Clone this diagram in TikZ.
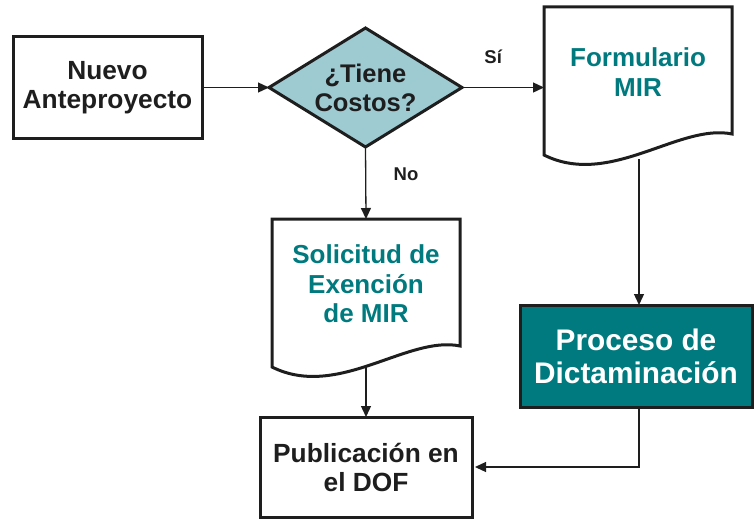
\documentclass[tikz,border=0pt]{standalone}
\usepackage{fontspec}
\setmainfont{Liberation Sans}
\usetikzlibrary{arrows.meta,shapes.geometric,calc}
\definecolor{tealtxt}{RGB}{0,122,126}
\definecolor{tealfill}{RGB}{0,122,126}
\definecolor{diafill}{RGB}{158,202,210}
\definecolor{ink}{RGB}{30,30,30}
\tikzset{
  boxline/.style={draw=ink,line width=3pt},
  procbox/.style={boxline,rectangle,inner sep=0pt,outer sep=0pt,align=center,text=ink,
     font=\bfseries\fontsize{26.3}{29}\selectfont},
  docbox/.style={rectangle,inner sep=0pt,outer sep=0pt,align=center,text=tealtxt,
     font=\bfseries\fontsize{26}{29.5}\selectfont,minimum width=188pt,minimum height=130pt},
  decision/.style={boxline,diamond,fill=diafill,inner sep=0pt,outer sep=0pt,aspect=1.62,
     minimum width=193pt,minimum height=119pt,align=center,text=ink,
     font=\bfseries\fontsize{25.5}{29}\selectfont},
  keybox/.style={boxline,rectangle,fill=tealfill,inner sep=0pt,outer sep=0pt,align=center,text=white,
     font=\bfseries\fontsize{29.8}{33}\selectfont},
  conn/.style={draw=ink,line width=1.3pt,-{Triangle[length=11pt,width=10pt]}},
  branch/.style={text=ink,font=\bfseries\fontsize{18.5}{20}\selectfont},
}
\newcommand{\docoutline}[1]{%
  \draw[boxline,line join=miter] (#1.north west) -- (#1.north east) -- ($(#1.north east)+(0,127)$)
   .. controls ($(#1.north west)!0.72!(#1.north east)+(0,116)$) and ($(#1.north west)!0.35!(#1.north east)+(0,181)$)
   .. ($(#1.north west)+(0,148)$) -- cycle;}
\begin{document}
\begin{tikzpicture}[x=1pt,y=-1pt]
\useasboundingbox (0,0) rectangle (754,519);
% nodes
\node[procbox,minimum width=189pt,minimum height=101pt] (nuevo) at (107.5,87.5) {Nuevo\\Anteproyecto};
\node[decision] (tiene) at (365.5,87.5) {¿Tiene\\Costos?};
\node[docbox] (form) at (638,72) {Formulario\\MIR};
\node[docbox] (soli) at (366,284) {Solicitud de\\Exención\\de MIR};
\node[keybox,minimum width=232pt,minimum height=102pt] (proc) at (636,356) {Proceso de\\Dictaminación};
\node[procbox,minimum width=212pt,minimum height=100pt] (publ) at (366,467) {Publicación en\\el DOF};
% document outlines
\docoutline{form}
\docoutline{soli}
\coordinate (formout) at ($(form.south)+(1,22)$);
\coordinate (soliout) at ($(soli.south)+(0,17)$);
% connectors
\draw[conn] (nuevo.east) -- (tiene.west);
\draw[conn] (tiene.east) -- node[branch,above=20pt,pos=0.38] {Sí} (tiene.east -| form.west);
\draw[conn] (tiene.south) -- node[branch,right=24pt,pos=0.38] {No} (soli.north);
\draw[conn] (formout) -- (formout |- proc.north);
\draw[conn] (soliout) -- (publ.north);
\draw[conn,shorten >=3pt] (formout |- proc.south) |- (publ.east);
\end{tikzpicture}
\end{document}
